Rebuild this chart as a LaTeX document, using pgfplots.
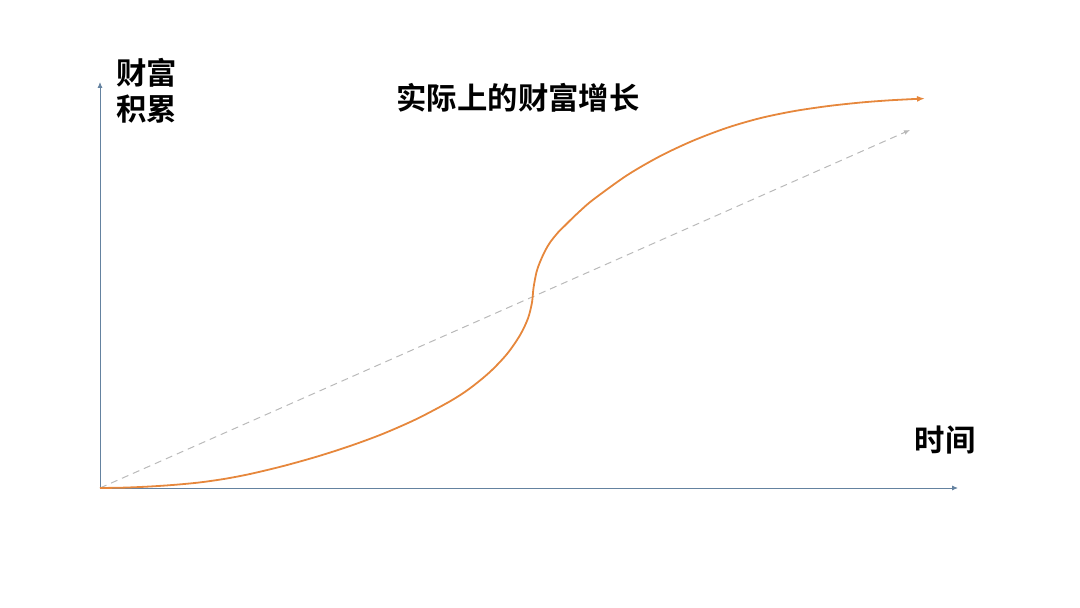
\documentclass[border=0pt]{standalone}
\usepackage{pgfplots}
\pgfplotsset{compat=1.18}
\usepackage{fontspec}
\setmainfont{Noto Sans CJK SC}[BoldFont={Noto Sans CJK SC Bold}]
\usetikzlibrary{arrows.meta}
\definecolor{axisblue}{RGB}{100,130,160}
\definecolor{curveorange}{RGB}{230,135,60}
\definecolor{dashgray}{RGB}{185,185,185}
\begin{document}
\begin{tikzpicture}
\begin{axis}[
  scale only axis,
  width=858bp, height=406bp,
  xmin=0, xmax=858, ymin=0, ymax=406,
  axis lines=left,
  axis line style={axisblue, line width=0.9bp, -{Latex[length=6bp,width=5bp]}},
  xtick=\empty, ytick=\empty,
  clip=false,
]
% straight-line expectation
\addplot[dashgray, line width=1bp, dash pattern=on 7bp off 5bp,
  -{Latex[length=6bp,width=5bp]}] coordinates {(0,0) (810,358)};
% actual wealth growth
\addplot[curveorange, line width=1.8bp, smooth,
  -{Latex[length=8bp,width=6bp]}] coordinates {
  (0,0) (25,0.4) (50,1.5) (75,3.2) (100,5.6) (125,9.2) (150,14)
  (183,21.9) (217,31.4) (250,42) (283,54.2) (317,69.2) (350,86.7)
  (370,99.7) (390,116.1) (407,134) (420,152.8) (428,169.6) (432,185.6)
  (433.5,200) (436.5,216) (440,226) (445,237) (450,245.5) (458,255.5)
  (465,262.5) (470,267.5) (480,277) (493,288.2)
  (527,312.7) (560,331.8) (593,347.3) (627,360.2) (660,369.8)
  (693,376.7) (727,381.8) (760,385.4) (790,387.7) (825,389.5)};
\node[font=\fontsize{30.5}{36}\selectfont\bfseries, align=left] at (axis cs:47,397) {财富\\积累};
\node[font=\fontsize{30.5}{36}\selectfont\bfseries] at (axis cs:418,390) {实际上的财富增长};
\node[font=\fontsize{30.5}{36}\selectfont\bfseries] at (axis cs:845,48) {时间};
\path (axis cs:-100,-120) rectangle (axis cs:980,488);
\end{axis}
\end{tikzpicture}
\end{document}
